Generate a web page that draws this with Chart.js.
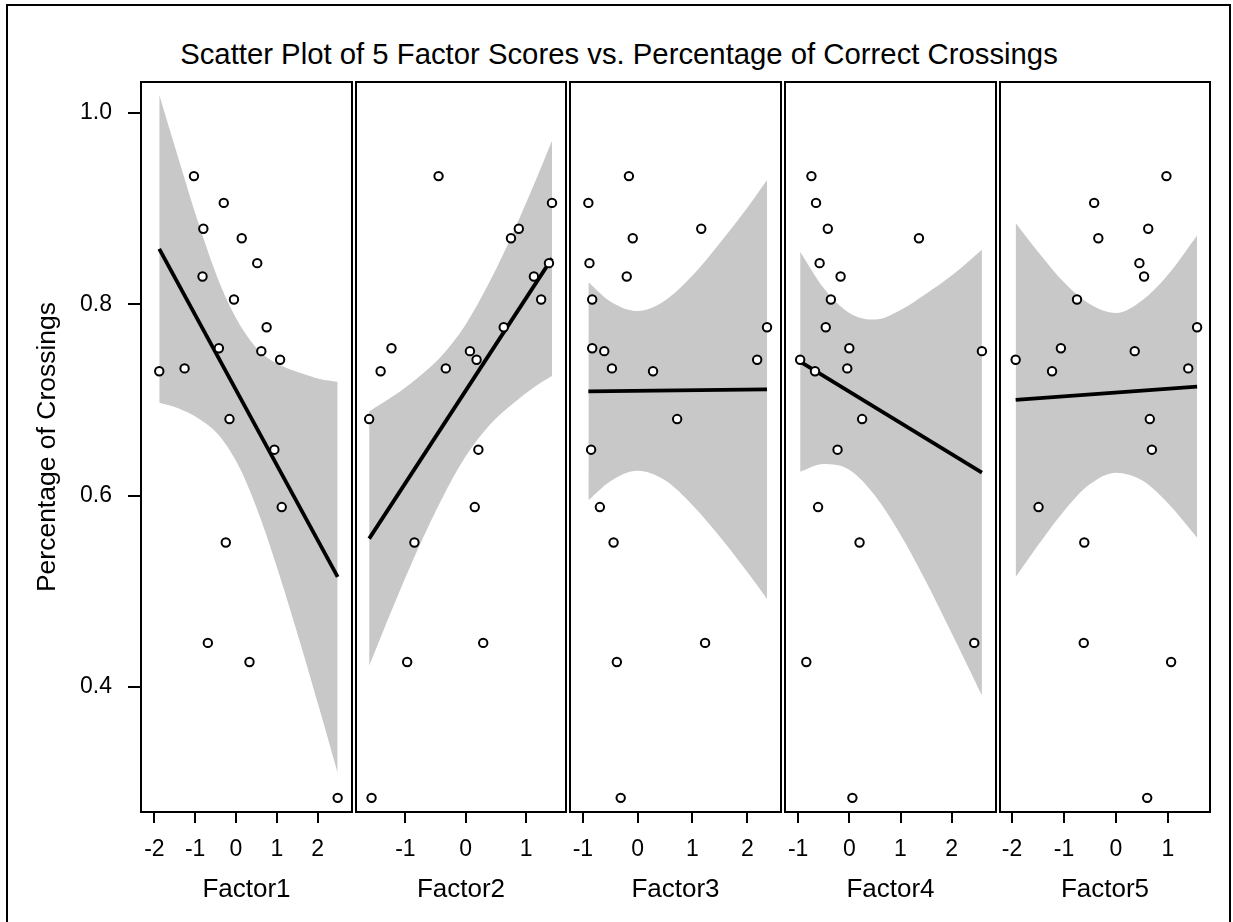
<!DOCTYPE html>
<html>
<head>
<meta charset="utf-8">
<title>Scatter Plot of 5 Factor Scores</title>
<script src="https://cdn.jsdelivr.net/npm/chart.js@4.4.1/dist/chart.umd.min.js"></script>
<style>
  body { margin: 0; background: #fff; }
  #wrap { position: relative; width: 1233px; height: 922px; overflow: hidden; background: #fff; }
  #outline { position: absolute; left: 6px; top: 4px; width: 1225px; height: 940px; border: 2px solid #000; box-sizing: border-box; }
  #title { position: absolute; left: 7px; width: 1224px; top: 37px; line-height: 34px; text-align: center;
           font-family: "Liberation Sans", Arial, sans-serif; font-size: 29.3px; color: #000; }
  canvas { position: absolute; }
</style>
</head>
<body>
<div id="wrap">
  <div id="outline"></div>
  <div id="title">Scatter Plot of 5 Factor Scores vs. Percentage of Correct Crossings</div>
  <canvas id="panel1"></canvas>
  <canvas id="panel2"></canvas>
  <canvas id="panel3"></canvas>
  <canvas id="panel4"></canvas>
  <canvas id="panel5"></canvas>
</div>
<script>
// Percentage of correct crossings (same 20 subjects in every panel)
const percentCorrect = [0.934, 0.906, 0.879, 0.869, 0.843, 0.829, 0.805, 0.776, 0.754, 0.751,
                        0.742, 0.733, 0.730, 0.680, 0.648, 0.588, 0.551, 0.446, 0.426, 0.284];

// Factor scores, in the same subject order
const factor1 = [-1.03, -0.30, -0.80, 0.14, 0.52, -0.82, -0.05, 0.75, -0.42, 0.62,
                 1.08, -1.26, -1.88, -0.16, 0.94, 1.12, -0.25, -0.69, 0.33, 2.49];
const factor2 = [-0.45, 1.43, 0.88, 0.75, 1.38, 1.13, 1.25, 0.63, -1.23, 0.07,
                 0.18, -0.33, -1.41, -1.60, 0.21, 0.15, -0.85, 0.29, -0.97, -1.56];
const factor3 = [-0.16, -0.90, 1.16, -0.09, -0.88, -0.20, -0.83, 2.36, -0.83, -0.61,
                 2.18, -0.47, 0.28, 0.72, -0.85, -0.69, -0.44, 1.23, -0.38, -0.31];
const factor4 = [-0.74, -0.65, -0.42, 1.36, -0.58, -0.17, -0.36, -0.46, 0.00, 2.59,
                 -0.96, -0.04, -0.67, 0.25, -0.23, -0.61, 0.20, 2.44, -0.84, 0.06];
const factor5 = [0.97, -0.42, 0.62, -0.34, 0.45, 0.54, -0.75, 1.56, -1.06, 0.36,
                 -1.93, 1.39, -1.23, 0.65, 0.69, -1.49, -0.61, -0.62, 1.06, 0.60];

// Regression line end points
const fitX1 = [-1.88, 2.49];  const fitY1 = [0.858, 0.515];
const fitX2 = [-1.60, 1.43];  const fitY2 = [0.555, 0.848];
const fitX3 = [-0.90, 2.36];  const fitY3 = [0.709, 0.711];
const fitX4 = [-0.96, 2.59];  const fitY4 = [0.740, 0.624];
const fitX5 = [-1.93, 1.56];  const fitY5 = [0.700, 0.714];

// Confidence band edges
const bandX1 = [-1.88, -1.4, -0.9, -0.4, 0.1, 0.6, 1.1, 1.6, 2.05, 2.49];
const upper1 = [1.019, 0.951, 0.882, 0.822, 0.778, 0.750, 0.736, 0.728, 0.722, 0.719];
const lower1 = [0.697, 0.691, 0.680, 0.662, 0.628, 0.576, 0.512, 0.442, 0.376, 0.310];

const bandX2 = [-1.60, -1.2, -0.8, -0.4, 0, 0.4, 0.8, 1.15, 1.43];
const upper2 = [0.688, 0.704, 0.723, 0.746, 0.779, 0.824, 0.877, 0.928, 0.971];
const lower2 = [0.422, 0.484, 0.543, 0.596, 0.641, 0.674, 0.697, 0.714, 0.725];

const bandX3 = [-0.90, -0.5, 0, 0.5, 1.0, 1.5, 2.0, 2.36];
const upper3 = [0.823, 0.803, 0.793, 0.804, 0.830, 0.864, 0.901, 0.930];
const lower3 = [0.595, 0.615, 0.626, 0.616, 0.590, 0.557, 0.520, 0.492];

const bandX4 = [-0.96, -0.5, 0, 0.5, 1.0, 1.5, 2.0, 2.59];
const upper4 = [0.855, 0.817, 0.791, 0.784, 0.794, 0.811, 0.830, 0.857];
const lower4 = [0.625, 0.633, 0.627, 0.600, 0.559, 0.510, 0.456, 0.391];

const bandX5 = [-1.93, -1.5, -1.0, -0.5, 0, 0.5, 1.0, 1.56];
const upper5 = [0.885, 0.855, 0.823, 0.800, 0.791, 0.804, 0.831, 0.872];
const lower5 = [0.515, 0.548, 0.584, 0.612, 0.624, 0.616, 0.592, 0.556];

// Tick labels
const xTicks1 = [-2, -1, 0, 1, 2];
const xTicks2 = [-1, 0, 1];
const xTicks3 = [-1, 0, 1, 2];
const xTicks4 = [-1, 0, 1, 2];
const xTicks5 = [-2, -1, 0, 1];
const yTicks = [0.4, 0.6, 0.8, 1.0];

const FONT = '"Liberation Sans", Arial, sans-serif';
const BAND_GREY = 'rgb(200, 200, 200)';

// Panel geometry (page pixels) and axis ranges
const panels = [
    { id: 'panel1', name: 'Factor1', xs: factor1, fitX: fitX1, fitY: fitY1, bandX: bandX1, up: upper1, lo: lower1, ticks: xTicks1, left: 141, right: 352, min: -2.327, max: 2.841 },
    { id: 'panel2', name: 'Factor2', xs: factor2, fitX: fitX2, fitY: fitY2, bandX: bandX2, up: upper2, lo: lower2, ticks: xTicks2, left: 356, right: 566, min: -1.818, max: 1.662 },
    { id: 'panel3', name: 'Factor3', xs: factor3, fitX: fitX3, fitY: fitY3, bandX: bandX3, up: upper3, lo: lower3, ticks: xTicks3, left: 570, right: 781, min: -1.235, max: 2.615 },
    { id: 'panel4', name: 'Factor4', xs: factor4, fitX: fitX4, fitY: fitY4, bandX: bandX4, up: upper4, lo: lower4, ticks: xTicks4, left: 785, right: 996, min: -1.256, max: 2.865 },
    { id: 'panel5', name: 'Factor5', xs: factor5, fitX: fitX5, fitY: fitY5, bandX: bandX5, up: upper5, lo: lower5, ticks: xTicks5, left: 1000, right: 1210, min: -2.231, max: 1.808 }
];

const PLOT_TOP = 82;       // top of the panel frames
const PLOT_HEIGHT = 730;   // frame height
const X_AXIS_HEIGHT = 100; // room for ticks and axis title under the frames
const Y_AXIS_WIDTH = 141;  // first panel carries the shared y axis

// Draws the black box round each panel
const framePlugin = {
    id: 'panelFrame',
    afterDraw(chart) {
        const { ctx, chartArea: a } = chart;
        ctx.save();
        ctx.strokeStyle = '#000';
        ctx.lineWidth = 2;
        ctx.strokeRect(a.left, a.top, a.right - a.left, a.bottom - a.top);
        ctx.restore();
    }
};

function toPoints(xs, ys) {
    return xs.map((x, i) => ({ x: x, y: ys[i] }));
}

function buildPanel(p, index) {
    const first = index === 0;
    const padTop = 4, padSide = 4;
    const canvas = document.getElementById(p.id);
    const leftSpace = first ? Y_AXIS_WIDTH : padSide;
    const width = leftSpace + (p.right - p.left) + padSide;
    const height = padTop + PLOT_HEIGHT + X_AXIS_HEIGHT;
    canvas.width = width;
    canvas.height = height;
    canvas.style.width = width + 'px';
    canvas.style.height = height + 'px';
    canvas.style.left = (p.left - leftSpace) + 'px';
    canvas.style.top = (PLOT_TOP - padTop) + 'px';

    // First dataset is drawn on top, so points come first and the band last
    const datasets = [
        {
            data: toPoints(p.xs, percentCorrect),
            pointStyle: 'circle',
            pointRadius: 4.2,
            pointBorderWidth: 2,
            pointBorderColor: '#000',
            pointBackgroundColor: '#fff',
            showLine: false
        },
        {
            data: toPoints(p.fitX, p.fitY),
            showLine: true,
            borderColor: '#000',
            borderWidth: 3.8,
            pointRadius: 0
        },
        {
            data: toPoints(p.bandX, p.up),
            showLine: true,
            borderWidth: 0,
            borderColor: 'rgba(0,0,0,0)',
            backgroundColor: BAND_GREY,
            pointRadius: 0,
            cubicInterpolationMode: 'monotone',
            fill: '+1'
        },
        {
            data: toPoints(p.bandX, p.lo),
            showLine: true,
            borderWidth: 0,
            borderColor: 'rgba(0,0,0,0)',
            pointRadius: 0,
            cubicInterpolationMode: 'monotone',
            fill: false
        }
    ];

    return new Chart(canvas.getContext('2d'), {
        type: 'scatter',
        data: { datasets: datasets },
        options: {
            responsive: false,
            animation: false,
            events: [],
            layout: {
                autoPadding: false,
                padding: { top: padTop, bottom: 0, left: first ? 0 : padSide, right: padSide }
            },
            plugins: {
                legend: { display: false },
                tooltip: { enabled: false },
                title: { display: false }
            },
            scales: {
                x: {
                    type: 'linear',
                    min: p.min,
                    max: p.max,
                    border: { display: false },
                    grid: { display: true, drawOnChartArea: false, drawTicks: true, tickLength: 11, color: '#000', lineWidth: 2 },
                    afterBuildTicks: (scale) => { scale.ticks = p.ticks.map(v => ({ value: v })); },
                    afterFit: (scale) => {
                        // fixed size, and no extra room asked for the edge labels
                        scale.height = X_AXIS_HEIGHT;
                        scale.paddingLeft = 0;
                        scale.paddingRight = 0;
                    },
                    ticks: {
                        color: '#000',
                        padding: 13,
                        maxRotation: 0,
                        font: { family: FONT, size: 23 },
                        callback: (v) => String(v)
                    },
                    title: {
                        display: true,
                        text: p.name,
                        color: '#000',
                        font: { family: FONT, size: 26 },
                        padding: { top: 0, bottom: 7 }
                    }
                },
                y: {
                    type: 'linear',
                    display: first,
                    min: 0.2692,
                    max: 1.0324,
                    border: { display: false },
                    grid: { display: true, drawOnChartArea: false, drawTicks: true, tickLength: 13, color: '#000', lineWidth: 2 },
                    afterBuildTicks: (scale) => { scale.ticks = yTicks.map(v => ({ value: v })); },
                    afterFit: (scale) => {
                        if (first) scale.width = Y_AXIS_WIDTH;
                        scale.paddingTop = 0;
                        scale.paddingBottom = 0;
                    },
                    ticks: {
                        color: '#000',
                        padding: 16,
                        font: { family: FONT, size: 23 },
                        callback: (v) => Number(v).toFixed(1)
                    },
                    title: {
                        display: true,
                        text: 'Percentage of Crossings',
                        color: '#000',
                        font: { family: FONT, size: 26.5 },
                        padding: { top: 32, bottom: 0 }
                    }
                }
            }
        },
        plugins: [framePlugin]
    });
}

panels.forEach((p, i) => buildPanel(p, i));
</script>
</body>
</html>
